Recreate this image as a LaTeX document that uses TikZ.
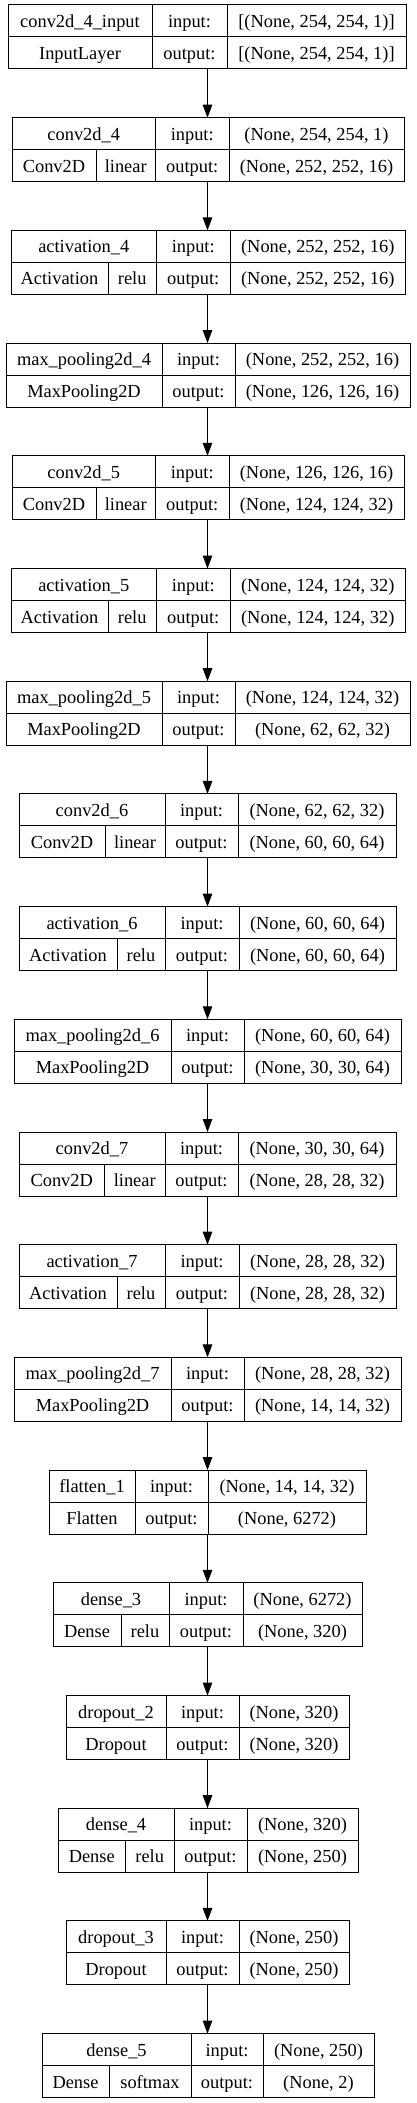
\documentclass[tikz,border=0pt]{standalone}
\usepackage{fontspec}
\setmainfont{Liberation Serif}
\newfontfamily\tnr{Liberation Serif}
\usetikzlibrary{arrows.meta}
\tikzset{
  cell/.style={font=\tnr\fontsize{18.4}{22}\selectfont, inner sep=0pt, anchor=base},
  frame/.style={draw=black, line width=1pt, inner sep=0pt, outer sep=0pt, anchor=north west},
  sepline/.style={draw=black, line width=1pt},
  flow/.style={draw=black, line width=1pt, -{Triangle[length=13pt,width=9.5pt]}},
}
\newcommand\lyr[9]{%
  \def\Lid{#1}\def\Lk{#2}\def\Lxl{#3}\def\Lxr{#4}\def\Lca{#5}\def\Lcb{#6}\def\Lcc{#7}\def\Lnm{#8}\def\Lty{#9}\lyrcont}
\newcommand\lyrcont[3]{%
  \pgfmathsetmacro\Lyt{5+112.7*\Lk}%
  \pgfmathsetmacro\Lyb{\Lyt+64}%
  \pgfmathsetmacro\Lym{\Lyt+32}%
  \pgfmathsetmacro\Lw{\Lxr-\Lxl}%
  \pgfmathsetmacro\Lba{\Lyt+16+6.5}%
  \pgfmathsetmacro\Lbb{\Lym+16+6.5}%
  \pgfmathsetmacro\Lxn{(\Lxl+\Lcb)/2}%
  \pgfmathsetmacro\Lxi{(\Lcb+\Lcc)/2}%
  \pgfmathsetmacro\Lxs{(\Lcc+\Lxr)/2}%
  \node[frame, minimum width=\Lw pt, minimum height=64pt] (\Lid) at (\Lxl,\Lyt) {};
  \draw[sepline] (\Lxl,\Lym) -- (\Lxr,\Lym);
  \draw[sepline] (\Lcb,\Lyt) -- (\Lcb,\Lyb);
  \draw[sepline] (\Lcc,\Lyt) -- (\Lcc,\Lyb);
  \node[cell] (\Lid-nm) at (\Lxn,\Lba) {\Lnm};
  \node[cell] (\Lid-il) at (\Lxi,\Lba) {input:};
  \node[cell] (\Lid-iv) at (\Lxs,\Lba) {#2};
  \node[cell] (\Lid-ol) at (\Lxi,\Lbb) {output:};
  \node[cell] (\Lid-ov) at (\Lxs,\Lbb) {#3};
  \ifx\Lca\empty
    \node[cell] (\Lid-ty) at (\Lxn,\Lbb) {\Lty};
  \else
    \pgfmathsetmacro\Lxt{(\Lxl+\Lca)/2}%
    \pgfmathsetmacro\Lxa{(\Lca+\Lcb)/2}%
    \draw[sepline] (\Lca,\Lym) -- (\Lca,\Lyb);
    \node[cell] (\Lid-ty) at (\Lxt,\Lbb) {\Lty};
    \node[cell] (\Lid-ac) at (\Lxa,\Lbb) {#1};
  \fi
}
\begin{document}
\begin{tikzpicture}[x=1pt, y=-1pt]
\useasboundingbox (0,0) rectangle (416,2103);
\fill[white] (0,0) rectangle (416,2103);
\coordinate (ax) at (207.5,0);
\lyr{L0}{0}{8}{406}{}{152}{227}{conv2d\_4\_input}{InputLayer}{}{[(None, 254, 254, 1)]}{[(None, 254, 254, 1)]}
\lyr{L1}{1}{12}{404}{96}{155.5}{229}{conv2d\_4}{Conv2D}{linear}{(None, 254, 254, 1)}{(None, 252, 252, 16)}
\lyr{L2}{2}{11}{405.5}{108}{156.5}{230}{activation\_4}{Activation}{relu}{(None, 252, 252, 16)}{(None, 252, 252, 16)}
\lyr{L3}{3}{6}{410}{}{162}{235}{max\_pooling2d\_4}{MaxPooling2D}{}{(None, 252, 252, 16)}{(None, 126, 126, 16)}
\lyr{L4}{4}{12}{404}{96}{155.5}{229}{conv2d\_5}{Conv2D}{linear}{(None, 126, 126, 16)}{(None, 124, 124, 32)}
\lyr{L5}{5}{11}{405.5}{108}{156.5}{230}{activation\_5}{Activation}{relu}{(None, 124, 124, 32)}{(None, 124, 124, 32)}
\lyr{L6}{6}{6}{410}{}{162}{235}{max\_pooling2d\_5}{MaxPooling2D}{}{(None, 124, 124, 32)}{(None, 62, 62, 32)}
\lyr{L7}{7}{19}{396}{105}{165}{238}{conv2d\_6}{Conv2D}{linear}{(None, 62, 62, 32)}{(None, 60, 60, 64)}
\lyr{L8}{8}{19}{396}{117}{165}{239}{activation\_6}{Activation}{relu}{(None, 60, 60, 64)}{(None, 60, 60, 64)}
\lyr{L9}{9}{14}{401}{}{171}{244}{max\_pooling2d\_6}{MaxPooling2D}{}{(None, 60, 60, 64)}{(None, 30, 30, 64)}
\lyr{L10}{10}{19}{396}{104.5}{165}{238}{conv2d\_7}{Conv2D}{linear}{(None, 30, 30, 64)}{(None, 28, 28, 32)}
\lyr{L11}{11}{19}{396}{117}{165}{239}{activation\_7}{Activation}{relu}{(None, 28, 28, 32)}{(None, 28, 28, 32)}
\lyr{L12}{12}{14}{401}{}{171}{244}{max\_pooling2d\_7}{MaxPooling2D}{}{(None, 28, 28, 32)}{(None, 14, 14, 32)}
\lyr{L13}{13}{49}{366}{}{135}{208}{flatten\_1}{Flatten}{}{(None, 14, 14, 32)}{(None, 6272)}
\lyr{L14}{14}{53}{362}{121}{169}{243}{dense\_3}{Dense}{relu}{(None, 6272)}{(None, 320)}
\lyr{L15}{15}{66}{349}{}{166}{239}{dropout\_2}{Dropout}{}{(None, 320)}{(None, 320)}
\lyr{L16}{16}{58}{358}{125.5}{174}{247}{dense\_4}{Dense}{relu}{(None, 320)}{(None, 250)}
\lyr{L17}{17}{66}{349}{}{166}{239}{dropout\_3}{Dropout}{}{(None, 250)}{(None, 250)}
\lyr{L18}{18}{42}{374}{109}{191}{263}{dense\_5}{Dense}{softmax}{(None, 250)}{(None, 2)}
\foreach \a/\b in {L0/L1,L1/L2,L2/L3,L3/L4,L4/L5,L5/L6,L6/L7,L7/L8,L8/L9,L9/L10,L10/L11,L11/L12,L12/L13,L13/L14,L14/L15,L15/L16,L16/L17,L17/L18}
  \draw[flow] (\a.south -| ax) -- (\b.north -| ax);
\end{tikzpicture}
\end{document}
